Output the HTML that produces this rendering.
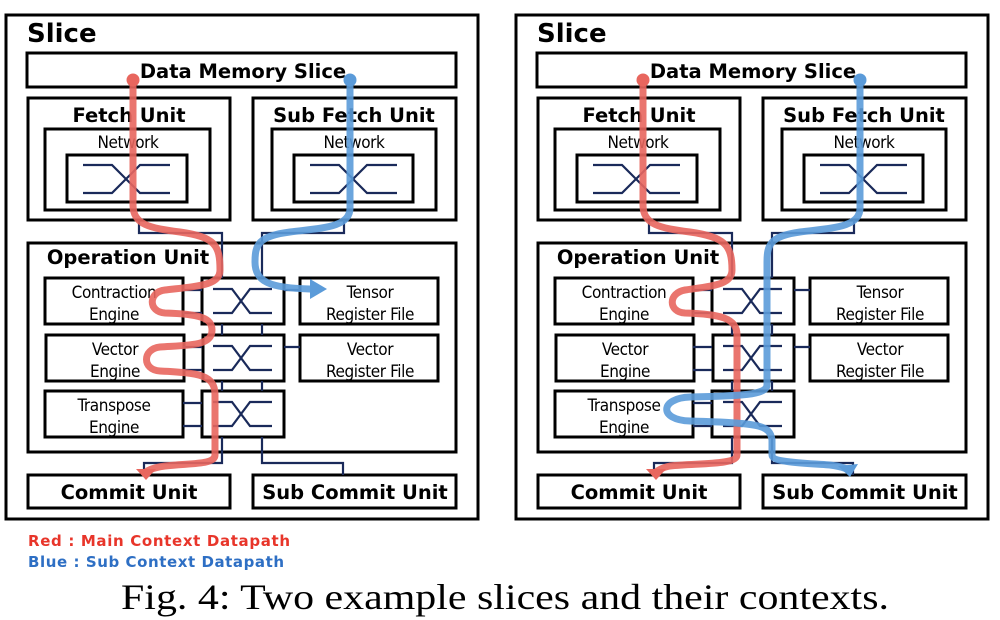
<!DOCTYPE html>
<html><head><meta charset="utf-8"><style>
html,body{margin:0;padding:0;background:#fff;width:1000px;height:620px;overflow:hidden}
svg text{font-family:"DejaVu Sans","Liberation Sans",sans-serif}
.b{fill:none;stroke:#000;stroke-width:3}
.c{fill:none;stroke:#1a2a5a;stroke-width:2.2}
.r{fill:none;stroke:#e8665e;stroke-width:7;stroke-opacity:.9;stroke-linecap:round;stroke-linejoin:round}
.u{fill:none;stroke:#5b9bd9;stroke-width:7;stroke-opacity:.9;stroke-linecap:round;stroke-linejoin:round}
.t{font-weight:bold;font-size:19.5px;text-anchor:middle}
.n{font-size:17px;text-anchor:middle;font-family:"DejaVu Sans Condensed","DejaVu Sans",sans-serif !important;letter-spacing:-0.4px}
</style></head><body>
<svg width="1000" height="620" viewBox="0 0 1000 620" xmlns="http://www.w3.org/2000/svg">
<defs>
<g id="slice">
<rect class="b" x="6" y="15" width="472" height="504" stroke-width="3.5"/>
<text x="27" y="42" font-size="26" font-weight="bold">Slice</text>
<rect class="b" x="27" y="53" width="429" height="34"/>
<text class="t" x="243" y="78">Data Memory Slice</text>
<rect class="b" x="28" y="98" width="202" height="122"/>
<text class="t" x="129" y="122">Fetch Unit</text>
<rect class="b" x="45" y="129" width="165" height="81"/>
<text class="n" x="128" y="148">Network</text>
<rect class="b" x="67" y="155" width="120" height="47"/>
<path class="c" d="M83,165h29l28,28h30M83,193h29l28,-28h30"/>
<rect class="b" x="253" y="98" width="203" height="122"/>
<text class="t" x="354" y="122">Sub Fetch Unit</text>
<rect class="b" x="272" y="129" width="164" height="81"/>
<text class="n" x="354" y="148">Network</text>
<rect class="b" x="294" y="155" width="119" height="47"/>
<path class="c" d="M310,165h29l28,28h30M310,193h29l28,-28h30"/>
<rect class="b" x="28" y="243" width="428" height="209"/>
<text class="t" x="128" y="264">Operation Unit</text>
<rect class="b" x="45" y="278" width="138" height="46"/>
<text class="n" x="114" y="298">Contraction</text><text class="n" x="114" y="320">Engine</text>
<rect class="b" x="46" y="335" width="138" height="46"/>
<text class="n" x="115" y="355">Vector</text><text class="n" x="115" y="377">Engine</text>
<rect class="b" x="45" y="391" width="138" height="46"/>
<text class="n" x="114" y="411">Transpose</text><text class="n" x="114" y="433">Engine</text>
<rect class="b" x="202" y="278" width="82" height="46"/>
<rect class="b" x="203" y="335" width="81" height="46"/>
<rect class="b" x="202" y="391" width="82" height="46"/>
<path class="c" d="M213,289h19l18,24h22M213,313h19l18,-24h22M213,346h19l18,24h22M213,370h19l18,-24h22M213,402h19l18,24h22M213,426h19l18,-24h22"/>
<rect class="b" x="300" y="278" width="138" height="46"/>
<text class="n" x="370" y="298">Tensor</text><text class="n" x="370" y="320">Register File</text>
<rect class="b" x="300" y="335" width="138" height="46"/>
<text class="n" x="370" y="355">Vector</text><text class="n" x="370" y="377">Register File</text>
<rect class="b" x="28" y="475" width="202" height="33"/>
<text class="t" x="129" y="499">Commit Unit</text>
<rect class="b" x="253" y="475" width="203" height="33"/>
<text class="t" x="355" y="499">Sub Commit Unit</text>
<path class="c" d="M139,220v13h83v45M344,220v13h-82v45M222,324v11M262,324v11M222,381v10M262,381v10M183,290h19M183,313h19M183,347h19M183,370h19M183,403h19M183,426h19M284,290h16M284,347h16M222,437v26h-78v12M262,437v26h81v12"/>
</g>
</defs>
<use href="#slice"/>
<use href="#slice" x="510"/>
<circle cx="133" cy="80" r="6.5" fill="#e8665e"/>
<path class="r" d="M133,80V205C133,225 150,228 180,232C215,237 220,245 220,270C220,285 200,286 165,290C148,292 148,312 165,313C200,314 212,318 212,330C212,346 190,345 160,347C142,349 142,370 160,371C200,373 215,375 215,395V455C215,465 190,463 165,466C150,468 146,472 146,472"/>
<path d="M136,469l10,11l10,-11z" fill="#e8665e"/>
<circle cx="350" cy="80" r="6.5" fill="#5b9bd9"/>
<path class="u" d="M350,80V208C350,228 320,228 290,232C258,236 255,245 255,262C255,282 270,288 310,289"/>
<path d="M310,279l17,10l-17,10z" fill="#5b9bd9"/>
<circle cx="643" cy="80" r="6.5" fill="#e8665e"/>
<path class="r" d="M643,80V205C643,225 660,228 690,232C725,237 732,245 732,270C732,285 712,286 685,290C668,293 668,312 685,313C720,314 737,318 737,335V455C737,465 700,463 670,466C660,468 656,472 656,472"/>
<path d="M646,469l10,11l10,-11z" fill="#e8665e"/>
<circle cx="860" cy="80" r="6.5" fill="#5b9bd9"/>
<path class="u" d="M860,80V208C860,228 830,228 800,232C770,236 767,245 767,262V385C767,395 740,396 690,397C660,398 658,420 690,421C760,423 770,425 772,440V455C772,462 800,463 830,465C845,467 848,470 848,470"/>
<path d="M838,466l12,11l8,-13z" fill="#5b9bd9"/>
<text x="28" y="546" font-size="15" font-weight="bold" fill="#e8352a" textLength="262">Red : Main Context Datapath</text>
<text x="28" y="567" font-size="15" font-weight="bold" fill="#2e6fc4" textLength="256">Blue : Sub Context Datapath</text>
<text x="121" y="609" font-size="36" style="font-family:'Liberation Serif',serif" textLength="768" lengthAdjust="spacingAndGlyphs">Fig. 4: Two example slices and their contexts.</text>
</svg>
</body></html>
